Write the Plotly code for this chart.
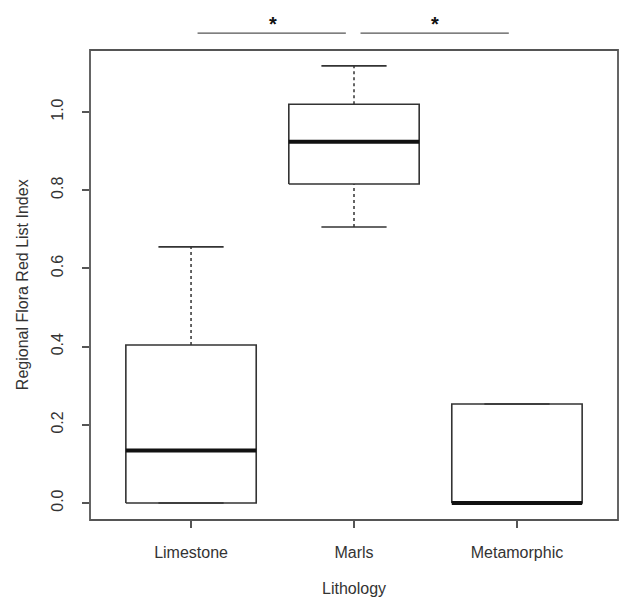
import plotly.graph_objects as go

# ---- data ----
categories = ["Limestone", "Marls", "Metamorphic"]
whisker_low = [0.0, 0.706, 0.0]
q1 = [0.0, 0.816, 0.0]
median = [0.134, 0.924, 0.0]
q3 = [0.404, 1.020, 0.253]
whisker_high = [0.655, 1.118, 0.253]

comparisons = [("Limestone", "Marls"), ("Marls", "Metamorphic")]
comparison_labels = ["*", "*"]

y_ticks = [0.0, 0.2, 0.4, 0.6, 0.8, 1.0]
y_ticktext = ["0.0", "0.2", "0.4", "0.6", "0.8", "1.0"]

x_title = "Lithology"
y_title = "Regional Flora Red List Index"

# ---- style ----
FONT = "Liberation Sans, Arial, sans-serif"
INK = "#333333"
BOXW = 0.8
CAPW = 0.4

fig = go.Figure()
pos = [i + 1 for i in range(len(categories))]

for i, p in enumerate(pos):
    h = BOXW / 2
    # box
    fig.add_trace(go.Scatter(
        x=[p - h, p + h, p + h, p - h, p - h],
        y=[q1[i], q1[i], q3[i], q3[i], q1[i]],
        mode="lines", line=dict(color=INK, width=1.6),
        hoverinfo="skip", showlegend=False))
    # whiskers (dashed)
    if whisker_high[i] > q3[i]:
        fig.add_trace(go.Scatter(
            x=[p, p], y=[q3[i], whisker_high[i]], mode="lines",
            line=dict(color=INK, width=1.5, dash="3px,3px"),
            hoverinfo="skip", showlegend=False))
    if whisker_low[i] < q1[i]:
        fig.add_trace(go.Scatter(
            x=[p, p], y=[whisker_low[i], q1[i]], mode="lines",
            line=dict(color=INK, width=1.5, dash="3px,3px"),
            hoverinfo="skip", showlegend=False))
    # caps
    c = CAPW / 2
    for yv in (whisker_low[i], whisker_high[i]):
        fig.add_trace(go.Scatter(
            x=[p - c, p + c], y=[yv, yv], mode="lines",
            line=dict(color=INK, width=1.6),
            hoverinfo="skip", showlegend=False))
    # median
    fig.add_trace(go.Scatter(
        x=[p - h, p + h], y=[median[i], median[i]], mode="lines",
        line=dict(color="#111111", width=4),
        hoverinfo="skip", showlegend=False))

# significance brackets
shapes = [dict(type="rect", xref="paper", yref="paper", x0=0, x1=1, y0=0, y1=1,
               line=dict(color="#555555", width=1.8), fillcolor="rgba(0,0,0,0)")]
annotations = []
for (a, b), lab in zip(comparisons, comparison_labels):
    xa = categories.index(a) + 1
    xb = categories.index(b) + 1
    shapes.append(dict(type="line", xref="x", yref="paper",
                       x0=xa + 0.04, x1=xb - 0.05, y0=1.036, y1=1.036,
                       line=dict(color="#555555", width=1.4)))
    annotations.append(dict(x=(xa + xb) / 2, y=1.036, xref="x", yref="paper",
                            text="<b>" + lab + "</b>", showarrow=False,
                            xanchor="center", yanchor="bottom", yshift=-4,
                            font=dict(family=FONT, size=20, color="#111111")))

annotations.append(dict(x=0.5, y=-0.145, xref="paper", yref="paper", text=x_title,
                        showarrow=False, xanchor="center", yanchor="middle",
                        font=dict(family=FONT, size=16, color=INK)))
annotations.append(dict(x=-0.1285, y=0.5, xref="paper", yref="paper", text=y_title,
                        showarrow=False, xanchor="center", yanchor="middle", textangle=-90,
                        font=dict(family=FONT, size=16, color=INK)))

fig.update_layout(
    width=621, height=606,
    margin=dict(l=90, r=3, t=50, b=86),
    paper_bgcolor="white", plot_bgcolor="white",
    shapes=shapes, annotations=annotations,
    showlegend=False,
    font=dict(family=FONT, size=16, color=INK),
)
fig.update_xaxes(
    range=[0.38, 3.62], tickvals=pos, ticktext=categories,
    showgrid=False, zeroline=False, showline=False,
    ticks="outside", ticklen=7, tickwidth=1.5, tickcolor="#555555",
    ticklabelstandoff=11, tickfont=dict(family=FONT, size=16, color=INK),
)
fig.update_yaxes(
    range=[-0.0435, 1.1586], tickvals=y_ticks, ticktext=y_ticktext,
    showgrid=False, zeroline=False, showline=False,
    ticks="outside", ticklen=7, tickwidth=1.5, tickcolor="#555555",
    tickangle=-90, ticklabelstandoff=13, tickfont=dict(family=FONT, size=16, color=INK),
)

fig.write_html("out.html")
